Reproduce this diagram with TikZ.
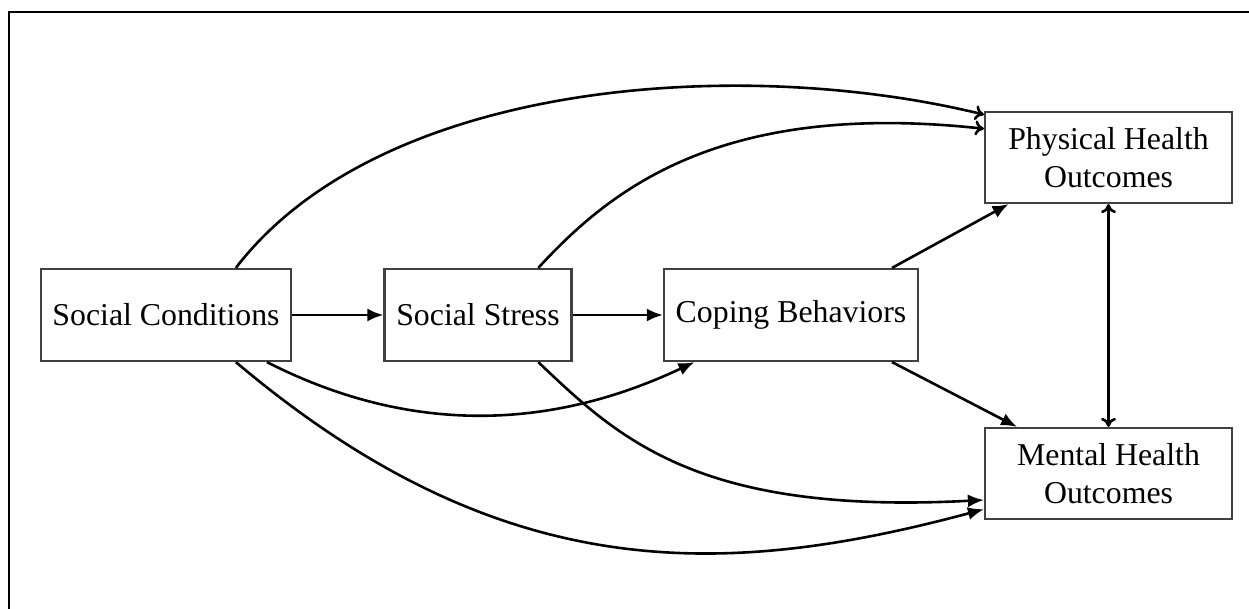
\documentclass[tikz,border=0pt]{standalone}
\usepackage{fontspec}
\setmainfont{Liberation Serif}
\usetikzlibrary{arrows.meta}
\begin{document}
\begin{tikzpicture}[x=1pt,y=-1pt,
  every node/.style={font=\fontsize{31.8}{38}\selectfont},
  box/.style={draw=black!75, line width=2.2pt, rectangle, inner sep=0pt,
              minimum height=92pt, align=center},
  link/.style={line width=2.6pt, -{Latex[length=16pt,width=13pt]}},
  openlink/.style={line width=2.6pt, -{Computer Modern Rightarrow[length=9pt,width=15pt]}},
  bothlink/.style={line width=2.6pt, {Computer Modern Rightarrow[length=9pt,width=15pt]}-{Computer Modern Rightarrow[length=9pt,width=15pt]}}]
  \useasboundingbox (0,0) rectangle (1249,609);
  \clip (0,0) rectangle (1249,609);
  % outer frame
  \draw[line width=2.4pt] (9,620) -- (9,12) -- (1260,12);

  % boxes
  \node[box, minimum width=250pt] (sc) at (166,315) {Social Conditions};
  \node[box, minimum width=187pt] (ss) at (478,315) {Social Stress};
  \node[box, minimum width=254pt] (cb) at (791,315) {Coping Behaviors};
  \node[box, minimum width=247pt, minimum height=91pt] (ph) at (1108.5,157.5) {Physical Health\\Outcomes};
  \node[box, minimum width=247pt, minimum height=91pt] (mh) at (1108.5,473.5) {Mental Health\\Outcomes};

  % straight links
  \draw[link] (sc.east) -- (ss.west);
  \draw[link] (ss.east) -- (cb.west);
  \draw[link] (cb.25.6) -- (ph.205);
  \draw[link] (cb.-25.6) -- (mh.153.6);
  \draw[bothlink] (ph.south) -- (mh.north);

  % curved links to physical health
  \draw[openlink] (sc.34.9) .. controls (380,80) and (740,55) .. (ph.161.8);
  \draw[openlink] (ss.38.9) .. controls (610,190) and (720,100) .. (ph.167.9);

  % curved links below the row
  \draw[link] (sc.-25.6) .. controls (400,430) and (540,435) .. (cb.-154.9);
  \draw[link] (sc.-34.5) .. controls (500,585) and (720,580) .. (mh.196.9);
  \draw[link] (ss.-38.9) .. controls (620,440) and (700,515) .. (mh.192.6);
\end{tikzpicture}
\end{document}
